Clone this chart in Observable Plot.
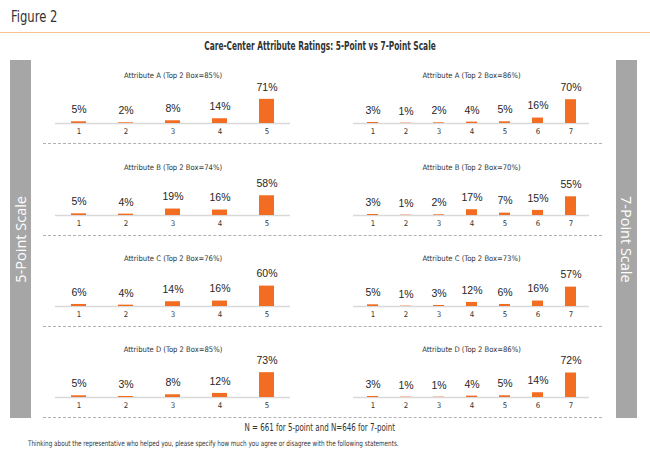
<!DOCTYPE html>
<html>
<head>
<meta charset="utf-8">
<script src="https://cdn.jsdelivr.net/npm/d3@7"></script>
<script src="https://cdn.jsdelivr.net/npm/@observablehq/plot@0.6"></script>
<style>
  html, body { margin: 0; padding: 0; background: #fff; }
  #page { position: relative; width: 650px; height: 460px; overflow: hidden; background: #fff;
    font-family: "DejaVu Sans Condensed", "Liberation Sans Narrow", "Liberation Sans", sans-serif; color: #333; }
  .abs { position: absolute; }
  #fig { left: 11px; top: 8px; font-size: 15px; color: #333; transform: scaleX(0.86); transform-origin: left center; }
  #rule { left: 0; top: 32px; width: 650px; height: 0; border-top: 1.5px solid #f8c495; }
  #title { left: 0; width: 640px; top: 39px; text-align: center; font-size: 11.5px; font-weight: bold; color: #333;
    transform: scaleX(0.72); transform-origin: 320px center; }
  .side { background: #a6a6a6; color: #fff; top: 60px; height: 358px; width: 21px;
    display: flex; align-items: center; justify-content: center; font-family: "Open Sans", "DejaVu Sans", sans-serif; font-size: 14.5px; }
  .side span { writing-mode: vertical-rl; white-space: nowrap; }
  #sideL { left: 10px; }
  #sideL span { transform: rotate(180deg); }
  #sideR { left: 616px; }
  .dash { left: 43px; width: 559px; height: 0; border-top: 1px dashed #b0b0b0; }
  #ncap { left: 0; width: 640px; top: 421px; text-align: center; font-size: 10.5px; color: #333;
    transform: scaleX(0.75); transform-origin: 319px center; }
  #note { left: 28px; top: 439px; font-size: 7.6px; color: #333; white-space: nowrap;
    transform: scaleX(0.83); transform-origin: left center; }
</style>
</head>
<body>
<div id="page">
  <div id="fig" class="abs">Figure 2</div>
  <div id="rule" class="abs"></div>
  <div id="title" class="abs">Care-Center Attribute Ratings: 5-Point vs 7-Point Scale</div>
  <div id="sideL" class="abs side"><span>5-Point Scale</span></div>
  <div id="sideR" class="abs side"><span>7-Point Scale</span></div>
  <div id="ncap" class="abs">N = 661 for 5-point and N=646 for 7-point</div>
  <div id="note" class="abs">Thinking about the representative who helped you, please specify how much you agree or disagree with the following statements.</div>
</div>
<script>
// ---- data ----
const attributes = ["Attribute A", "Attribute B", "Attribute C", "Attribute D"];
const fivePointTicks = ["1", "2", "3", "4", "5"];
const sevenPointTicks = ["1", "2", "3", "4", "5", "6", "7"];
const fivePointTop2 = [85, 74, 76, 85];
const sevenPointTop2 = [86, 70, 73, 86];
const fivePointA = [5, 2, 8, 14, 71];
const fivePointB = [5, 4, 19, 16, 58];
const fivePointC = [6, 4, 14, 16, 60];
const fivePointD = [5, 3, 8, 12, 73];
const sevenPointA = [3, 1, 2, 4, 5, 16, 70];
const sevenPointB = [3, 1, 2, 17, 7, 15, 55];
const sevenPointC = [5, 1, 3, 12, 6, 16, 57];
const sevenPointD = [3, 1, 1, 4, 5, 14, 72];

const fivePointSeries = [fivePointA, fivePointB, fivePointC, fivePointD];
const sevenPointSeries = [sevenPointA, sevenPointB, sevenPointC, sevenPointD];

const narrow = '"DejaVu Sans Condensed", "Liberation Sans Narrow", "Liberation Sans", sans-serif';
const page = document.getElementById("page");

function panel(ticks, values, title, layout) {
  const data = ticks.map((k, i) => ({k, v: values[i]}));
  return Plot.plot({
    width: layout.width,
    height: 91,
    marginLeft: layout.ml,
    marginRight: layout.mr,
    marginTop: 37,
    marginBottom: 20,
    style: {fontFamily: narrow, fontSize: "7.8px", color: "#333", background: "transparent", overflow: "visible"},
    x: {domain: ticks, paddingInner: 0.68, paddingOuter: 0.34, label: null, tickSize: 0, tickPadding: 5},
    y: {domain: [0, 100], axis: null},
    marks: [
      Plot.ruleY([0], {stroke: "#d9d9d9", strokeWidth: 1.5}),
      Plot.barY(data, {x: "k", y: "v", fill: "#f26d21"}),
      Plot.text(data, {x: "k", y: "v", text: d => d.v + "%", dy: -12, fontSize: 10.5,
        fontFamily: '"Liberation Sans", Arial, sans-serif', fill: "#262626"}),
      Plot.text([title], {frameAnchor: "top", dy: -17, text: d => d, fontSize: 7.6, fill: "#333"})
    ]
  });
}

function place(el, left, top) {
  const wrap = document.createElement("div");
  wrap.className = "abs";
  wrap.style.left = left + "px";
  wrap.style.top = top + "px";
  wrap.appendChild(el);
  page.appendChild(wrap);
}

attributes.forEach((name, r) => {
  const top = 52.3 + 91.3 * r;
  place(panel(fivePointTicks, fivePointSeries[r], `${name} (Top 2 Box=${fivePointTop2[r]}%)`,
    {width: 325, ml: 55, mr: 35}), 0, top);
  place(panel(sevenPointTicks, sevenPointSeries[r], `${name} (Top 2 Box=${sevenPointTop2[r]}%)`,
    {width: 325, ml: 28, mr: 61}), 325, top);
  const d = document.createElement("div");
  d.className = "abs dash";
  d.style.top = (top + 91) + "px";
  page.appendChild(d);
});
</script>
</body>
</html>
